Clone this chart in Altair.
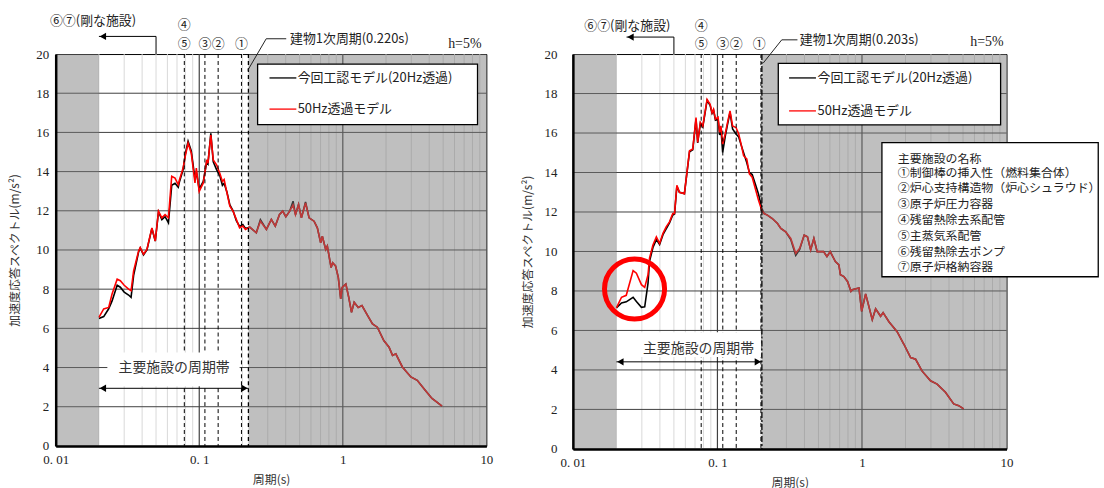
import altair as alt
import pandas as pd

# ---------------- data ----------------
# Left panel (building 1st period 0.220 s)
L_T = [0.0200, 0.0216, 0.0234, 0.0247, 0.0268, 0.0282, 0.0300, 0.0322, 0.0335, 0.0349,
       0.0378, 0.0388, 0.0409, 0.0432, 0.0468, 0.0494, 0.0520, 0.0549, 0.0578, 0.0610,
       0.0643, 0.0678, 0.0714, 0.0729, 0.0772, 0.0800, 0.0836, 0.0880, 0.0934, 0.0954,
       0.0999, 0.1067, 0.1128, 0.1150, 0.1204, 0.1252, 0.1320, 0.1390, 0.1450, 0.1490,
       0.1560, 0.1634, 0.1720, 0.1812, 0.1910, 0.2011, 0.2098, 0.2247, 0.2497, 0.2667,
       0.2936, 0.3178, 0.3385, 0.3623, 0.3814, 0.4010, 0.4266, 0.4503, 0.4680, 0.4916,
       0.5150, 0.5500, 0.5824, 0.6306, 0.6647, 0.7012, 0.7200, 0.7600, 0.7800, 0.8290,
       0.8500, 0.8900, 0.9300, 0.9670, 0.9900, 1.0500, 1.1000, 1.1500, 1.2000, 1.2800,
       1.3600, 1.4900, 1.6100, 1.7400, 1.9300, 2.1000, 2.2200, 2.3400, 2.6000, 2.9800,
       3.3000, 3.7500, 4.1800, 4.5000, 4.9100]
L_RED = [6.56, 6.99, 7.07, 7.75, 8.51, 8.43, 8.20, 8.00, 7.92, 8.93,
         9.95, 10.12, 9.78, 10.03, 11.13, 10.46, 11.98, 11.64, 11.81, 11.64,
         13.76, 13.67, 13.33, 13.60, 14.18, 14.80, 15.45, 14.94, 13.42, 14.18,
         12.99, 13.42, 14.60, 14.43, 15.87, 14.60, 14.35, 13.92, 13.50, 13.60,
         12.91, 12.23, 11.98, 11.56, 11.13, 11.22, 11.05, 11.17, 10.88, 11.47,
         11.05, 11.56, 11.22, 11.81, 11.98, 11.70, 11.98, 12.30, 11.80, 12.32,
         11.64, 12.40, 11.64, 11.47, 11.13, 10.37, 10.70, 10.03, 10.20, 9.10,
         9.35, 9.19, 8.60, 7.50, 8.09, 8.26, 7.58, 6.82, 7.33, 7.07,
         7.16, 6.65, 6.23, 6.06, 5.38, 5.04, 4.62, 4.70, 4.03, 3.52,
         3.35, 2.84, 2.42, 2.25, 2.03]
L_BLK = [6.50, 6.60, 7.00, 7.40, 8.20, 8.10, 7.85, 7.70, 7.58, 8.70,
         9.90, 10.10, 9.75, 10.00, 11.10, 10.45, 11.95, 11.55, 11.70, 11.39,
         13.30, 13.40, 13.20, 13.50, 14.10, 14.90, 15.55, 15.05, 13.60, 14.00,
         13.10, 13.50, 14.50, 14.40, 15.95, 14.50, 14.10, 13.80, 13.30, 13.40,
         12.95, 12.30, 12.00, 11.50, 11.20, 11.30, 11.10, 11.17, 10.88, 11.55,
         11.05, 11.56, 11.22, 11.81, 11.98, 11.70, 11.98, 12.49, 11.80, 12.32,
         11.64, 12.45, 11.64, 11.47, 11.13, 10.37, 10.70, 10.03, 10.20, 9.10,
         9.35, 9.19, 8.60, 7.50, 8.09, 8.26, 7.58, 6.82, 7.33, 7.07,
         7.16, 6.65, 6.23, 6.06, 5.38, 5.04, 4.62, 4.70, 4.03, 3.52,
         3.35, 2.84, 2.42, 2.25, 2.03]

# Right panel (building 1st period 0.203 s)
R_T = [0.0200, 0.0217, 0.0234, 0.0261, 0.0275, 0.0298, 0.0314, 0.0331, 0.0339, 0.0358,
       0.0378, 0.0398, 0.0420, 0.0442, 0.0466, 0.0491, 0.0505, 0.0524, 0.0546, 0.0591,
       0.0641, 0.0675, 0.0711, 0.0730, 0.0762, 0.0792, 0.0848, 0.0890, 0.0918, 0.0940,
       0.0969, 0.1010, 0.1036, 0.1058, 0.1087, 0.1131, 0.1168, 0.1222, 0.1273, 0.1344,
       0.1403, 0.1458, 0.1517, 0.1595, 0.1664, 0.1740, 0.1830, 0.1925, 0.2025, 0.2102,
       0.2215, 0.2397, 0.2604, 0.2745, 0.2967, 0.3216, 0.3480, 0.3707, 0.3983, 0.4195,
       0.4415, 0.4647, 0.4896, 0.5426, 0.5723, 0.6027, 0.6547, 0.6920, 0.7094, 0.7494,
       0.7941, 0.8389, 0.8570, 0.9530, 0.9950, 1.0600, 1.1780, 1.2430, 1.3450, 1.4000,
       1.5360, 1.7500, 1.9500, 2.1700, 2.3500, 2.6000, 2.9800, 3.3100, 3.7800, 4.3100,
       4.6700, 5.0500]
R_RED = [7.14, 7.68, 7.78, 9.03, 8.90, 8.32, 8.18, 8.82, 9.66, 10.33,
         10.74, 10.41, 10.92, 11.25, 11.50, 11.92, 11.92, 13.35, 13.00, 12.93,
         15.10, 15.19, 16.78, 15.52, 16.53, 16.36, 17.70, 17.45, 17.03, 17.20,
         16.70, 16.80, 16.03, 16.36, 15.44, 15.95, 16.45, 17.12, 16.36, 16.28,
         15.95, 15.44, 14.85, 14.69, 13.93, 13.76, 13.18, 12.59, 12.09, 11.92,
         11.84, 11.67, 11.42, 11.17, 11.00, 10.66, 9.91, 10.16, 10.83, 10.74,
         10.08, 10.66, 9.99, 9.99, 9.74, 9.99, 9.49, 9.32, 8.82, 8.73,
         8.48, 7.98, 8.06, 8.15, 6.97, 7.85, 6.55, 7.10, 6.72, 6.90,
         6.44, 5.94, 5.30, 4.63, 4.54, 3.95, 3.45, 3.28, 2.87, 2.28,
         2.19, 2.03]
R_BLK = [7.14, 7.39, 7.45, 7.68, 7.47, 7.17, 7.20, 8.40, 9.50, 10.20,
         10.60, 10.35, 10.85, 11.15, 11.45, 11.85, 11.90, 13.30, 13.00, 12.93,
         15.05, 15.15, 16.70, 15.50, 16.50, 16.30, 17.65, 17.40, 17.00, 17.15,
         16.65, 16.70, 15.90, 16.20, 15.02, 15.80, 16.35, 17.05, 16.20, 15.95,
         15.80, 15.40, 15.00, 14.50, 14.00, 13.90, 13.40, 12.90, 12.20, 11.92,
         11.84, 11.67, 11.42, 11.17, 11.00, 10.60, 9.80, 10.10, 10.83, 10.74,
         10.08, 10.66, 9.99, 9.99, 9.74, 9.99, 9.49, 9.32, 8.82, 8.73,
         8.48, 7.98, 8.06, 8.15, 6.97, 7.85, 6.55, 7.10, 6.72, 6.90,
         6.44, 5.94, 5.30, 4.63, 4.54, 3.95, 3.45, 3.28, 2.87, 2.28,
         2.19, 2.03]

X_TICKS = [0.01, 0.1, 1, 10]
Y_TICKS = [0, 2, 4, 6, 8, 10, 12, 14, 16, 18, 20]
MINOR_T = [0.02, 0.03, 0.04, 0.05, 0.06, 0.07, 0.08, 0.09,
           0.2, 0.3, 0.4, 0.5, 0.6, 0.7, 0.8, 0.9,
           2, 3, 4, 5, 6, 7, 8, 9]
MAJOR_T = [0.1, 1]
H_GRID = [2, 4, 6, 8, 10, 12, 14, 16, 18]

LEGEND_LABELS = ["今回工認モデル(20Hz透過)", "50Hz透過モデル"]
BAND_LABEL = "主要施設の周期帯"
RIGID_LABEL = "⑥⑦(剛な施設)"
FACILITY_NAMES = ["主要施設の名称",
                  "①制御棒の挿入性（燃料集合体）",
                  "②炉心支持構造物（炉心シュラウド）",
                  "③原子炉圧力容器",
                  "④残留熱除去系配管",
                  "⑤主蒸気系配管",
                  "⑥残留熱除去ポンプ",
                  "⑦原子炉格納容器"]

# facility periods (lines) and labels, per panel
L_FAC_T = [0.0787, 0.1095, 0.1354, 0.1968]
R_FAC_T = [0.0772, 0.1089, 0.1349, 0.2000]
L_BLDG = 0.220
R_BLDG = 0.203

JP = "Noto Sans CJK JP"
SERIF = "Liberation Serif"


def panel(T, red, blk, fac_T, bldg_T, p):
    xs = alt.Scale(type="log", domain=[0.01, 10], nice=False)
    ys = alt.Scale(domain=[0, 20], nice=False, zero=False)
    xa = alt.Axis(values=X_TICKS, title="周期(s)", ticks=False, grid=False,
                  domainColor="black", domainWidth=2.5, zindex=1,
                  labelExpr="datum.value < 0.05 ? '0. 01' : datum.value < 0.5 ? '0. 1' : datum.value < 5 ? '1' : '10'",
                  labelFont=SERIF, labelFontSize=13, labelColor="#222", labelFlush=False,
                  labelPadding=8, titleFont=JP, titleFontSize=12, titleFontWeight="normal",
                  titleColor="#333", titlePadding=8)
    ya = alt.Axis(values=Y_TICKS, title="加速度応答スペクトル(m/s²)", ticks=False, grid=False,
                  domainColor="black", domainWidth=2.5, zindex=1,
                  labelFont=SERIF, labelFontSize=13, labelColor="#222",
                  labelPadding=p["ylabpad"], titleFont=JP, titleFontSize=12,
                  titleFontWeight="normal", titleColor="#333", titlePadding=p["ytitpad"])

    def X(f):
        return alt.X(f, type="quantitative", scale=xs, axis=xa)

    def Y(f):
        return alt.Y(f, type="quantitative", scale=ys, axis=ya)

    layers = []
    # grid
    layers.append(alt.Chart(pd.DataFrame({"x": MINOR_T})).mark_rule(color="#d9d9d9", strokeWidth=1).encode(x=X("x")))
    layers.append(alt.Chart(pd.DataFrame({"x": MAJOR_T})).mark_rule(color="#404040", strokeWidth=1.2).encode(x=X("x")))
    layers.append(alt.Chart(pd.DataFrame({"y": H_GRID})).mark_rule(color="#404040", strokeWidth=1).encode(y=Y("y")))
    # curves
    layers.append(alt.Chart(pd.DataFrame({"T": T, "v": blk})).mark_line(color="black", strokeWidth=1.6).encode(x=X("T"), y=Y("v")))
    layers.append(alt.Chart(pd.DataFrame({"T": T, "v": red})).mark_line(color="#ff0000", strokeWidth=1.6).encode(x=X("T"), y=Y("v")))
    # grey overlay outside main period band
    ov = pd.DataFrame({"x0": [0.01, bldg_T], "x1": [0.02, 10], "y0": [0, 0], "y1": [20, 20]})
    layers.append(alt.Chart(ov).mark_rect(color="#787878", opacity=0.475).encode(x=X("x0"), x2="x1", y=Y("y0"), y2="y1"))
    # facility dashed lines
    layers.append(alt.Chart(pd.DataFrame({"x": fac_T})).mark_rule(color="black", strokeWidth=1, strokeDash=[4, 3]).encode(x=X("x")))
    layers.append(alt.Chart(pd.DataFrame({"x": [bldg_T]})).mark_rule(color="black", strokeWidth=1.3, strokeDash=p["bdash"]).encode(x=X("x")))
    # band label box, text and double arrow
    bb = pd.DataFrame({"x0": [p["band_box"][0]], "x1": [p["band_box"][1]], "y0": [p["band_box"][2]], "y1": [p["band_box"][3]]})
    layers.append(alt.Chart(bb).mark_rect(color="white").encode(x=X("x0"), x2="x1", y=Y("y0"), y2="y1"))
    layers.append(alt.Chart(pd.DataFrame({"x": [p["band_text"][0]], "y": [p["band_text"][1]], "t": [BAND_LABEL]})).mark_text(
        font=JP, fontSize=14, color="#333", align="center", baseline="middle").encode(x=X("x"), y=Y("y"), text="t:N"))
    ar = pd.DataFrame({"a": [0.02], "b": [bldg_T], "y": [p["band_arrow_y"]]})
    layers.append(alt.Chart(ar).mark_rule(color="black", strokeWidth=1).encode(x=X("a"), x2="b", y=Y("y")))
    layers.append(alt.Chart(pd.DataFrame({"x": [0.02], "y": [p["band_arrow_y"]]})).mark_point(
        shape="triangle-left", filled=True, color="black", size=55, opacity=1, xOffset=4).encode(x=X("x"), y=Y("y")))
    layers.append(alt.Chart(pd.DataFrame({"x": [bldg_T], "y": [p["band_arrow_y"]]})).mark_point(
        shape="triangle-right", filled=True, color="black", size=55, opacity=1, xOffset=-4).encode(x=X("x"), y=Y("y")))
    # legend box
    lb = p["leg_box"]
    layers.append(alt.Chart(pd.DataFrame({"x0": [lb[0]], "x1": [lb[1]], "y0": [lb[2]], "y1": [lb[3]]})).mark_rect(
        fill="white", stroke="black", strokeWidth=1.3).encode(x=X("x0"), x2="x1", y=Y("y0"), y2="y1"))
    ll = p["leg_line"]
    layers.append(alt.Chart(pd.DataFrame({"a": [ll[0]], "b": [ll[1]], "y": [ll[2]]})).mark_rule(color="black", strokeWidth=1.3).encode(
        x=X("a"), x2="b", y=Y("y")))
    layers.append(alt.Chart(pd.DataFrame({"a": [ll[0]], "b": [ll[1]], "y": [ll[3]]})).mark_rule(color="#ff0000", strokeWidth=1.3).encode(
        x=X("a"), x2="b", y=Y("y")))
    layers.append(alt.Chart(pd.DataFrame({"x": [p["leg_text_x"]] * 2, "y": [ll[2], ll[3]], "t": LEGEND_LABELS})).mark_text(
        font=JP, fontSize=13, color="#222", align="left", baseline="middle").encode(x=X("x"), y=Y("y"), text="t:N"))
    # numbers above the plot
    nums = p["nums"]
    layers.append(alt.Chart(pd.DataFrame({"x": [n[0] for n in nums], "y": [n[1] for n in nums], "t": [n[2] for n in nums]})).mark_text(
        font=JP, fontSize=13, color="#222", align="center", baseline="middle").encode(x=X("x"), y=Y("y"), text="t:N"))
    # rigid facilities label with arrow
    layers.append(alt.Chart(pd.DataFrame({"x": [p["rigid"][0]], "y": [p["rigid"][1]], "t": [RIGID_LABEL]})).mark_text(
        font=JP, fontSize=13, color="#222", align="center", baseline="middle").encode(x=X("x"), y=Y("y"), text="t:N"))
    rg = pd.DataFrame({"x": [0.05, 0.05, p["rigid_tip"]], "y": [20, p["rigid_arrow_y"], p["rigid_arrow_y"]], "o": [0, 1, 2]})
    layers.append(alt.Chart(rg).mark_line(color="black", strokeWidth=1, clip=False).encode(x=X("x"), y=Y("y"), order="o:Q"))
    layers.append(alt.Chart(pd.DataFrame({"x": [p["rigid_tip"]], "y": [p["rigid_arrow_y"]]})).mark_point(
        shape="triangle-left", filled=True, color="black", size=55, opacity=1, xOffset=4).encode(x=X("x"), y=Y("y")))
    # building period label with leader
    ld = p["leader"]
    layers.append(alt.Chart(pd.DataFrame({"x": [d[0] for d in ld], "y": [d[1] for d in ld], "o": [0, 1, 2]})).mark_line(
        color="#222", strokeWidth=1, clip=False).encode(x=X("x"), y=Y("y"), order="o:Q"))
    layers.append(alt.Chart(pd.DataFrame({"x": [p["bldg_text"][0]], "y": [p["bldg_text"][1]], "t": [p["bldg_label"]]})).mark_text(
        font=JP, fontSize=13, color="#222", align="left", baseline="middle").encode(x=X("x"), y=Y("y"), text="t:N"))
    layers.append(alt.Chart(pd.DataFrame({"x": [p["h5"][0]], "y": [p["h5"][1]], "t": ["h=5%"]})).mark_text(
        font=SERIF, fontSize=14, color="#222", align="right", baseline="middle").encode(x=X("x"), y=Y("y"), text="t:N"))

    if p.get("names"):
        nb = p["names_box"]
        layers.append(alt.Chart(pd.DataFrame({"x0": [nb[0]], "x1": [nb[1]], "y0": [nb[2]], "y1": [nb[3]]})).mark_rect(
            fill="white", stroke="black", strokeWidth=1.3, clip=False).encode(x=X("x0"), x2="x1", y=Y("y0"), y2="y1"))
        layers.append(alt.Chart(pd.DataFrame({"x": [p["names_x"]] * len(FACILITY_NAMES), "y": p["names_y"], "t": FACILITY_NAMES})).mark_text(
            font=JP, fontSize=12, color="#222", align="left", baseline="middle", clip=False).encode(x=X("x"), y=Y("y"), text="t:N"))
        c = p["circle"]
        layers.append(alt.Chart(pd.DataFrame({"x": [c[0]], "y": [c[1]]})).mark_point(
            shape="circle", filled=False, color="#ff0000", size=3650, strokeWidth=5, opacity=1).encode(x=X("x"), y=Y("y")))

    return alt.layer(*layers).properties(width=p["w"], height=p["h"])


left_p = dict(
    w=433, h=394, ylabpad=7, ytitpad=14, bdash=[4, 3],
    band_box=(0.0229, 0.1911, 3.05, 4.77), band_text=(0.0668, 4.0), band_arrow_y=2.94,
    leg_box=(0.255, 8.68, 16.40, 19.49), leg_line=(0.3085, 0.4746, 18.78, 17.19), leg_text_x=0.4846,
    nums=[(0.0787, 21.49, "④"), (0.0787, 20.52, "⑤"), (0.1095, 20.52, "③"), (0.1354, 20.52, "②"), (0.1968, 20.52, "①")],
    rigid=(0.0182, 21.71), rigid_tip=0.0200, rigid_arrow_y=20.90,
    leader=[(0.2178, 19.17), (0.2927, 20.78), (0.4035, 20.78)],
    bldg_text=(0.4291, 20.78), bldg_label="建物1次周期(0.220s)", h5=(9.25, 20.52),
)

right_p = dict(
    w=436, h=397, ylabpad=16, ytitpad=10, bdash=[6, 2, 2, 2],
    band_box=(0.0202, 0.2000, 4.65, 5.91), band_text=(0.0740, 5.04), band_arrow_y=4.41,
    leg_box=(0.2636, 9.10, 16.41, 19.53), leg_line=(0.3131, 0.4803, 18.79, 17.12), leg_text_x=0.4927,
    nums=[(0.0772, 21.44, "④"), (0.0772, 20.50, "⑤"), (0.1089, 20.50, "③"), (0.1349, 20.50, "②"), (0.1945, 20.50, "①")],
    rigid=(0.0238, 21.44), rigid_tip=0.0235, rigid_arrow_y=20.86,
    leader=[(0.2077, 19.55), (0.2786, 20.72), (0.3577, 20.72)],
    bldg_text=(0.3717, 20.72), bldg_label="建物1次周期(0.203s)", h5=(9.55, 20.59),
    names=True, names_box=(1.374, 43.1, 8.72, 15.51), names_x=1.771,
    names_y=[14.70, 13.95, 13.19, 12.39, 11.59, 10.78, 9.98, 9.23],
    circle=(0.0267, 8.10),
)

left = panel(L_T, L_RED, L_BLK, L_FAC_T, L_BLDG, left_p)
right = panel(R_T, R_RED, R_BLK, R_FAC_T, R_BLDG, right_p)

chart = alt.hconcat(left, right, spacing=27).properties(
    padding={"left": 8, "top": 12, "right": 2, "bottom": 2}, background="white"
).configure_view(stroke="black", strokeWidth=1)

chart.save("out.html", embed_options={"renderer": "svg", "actions": False})
